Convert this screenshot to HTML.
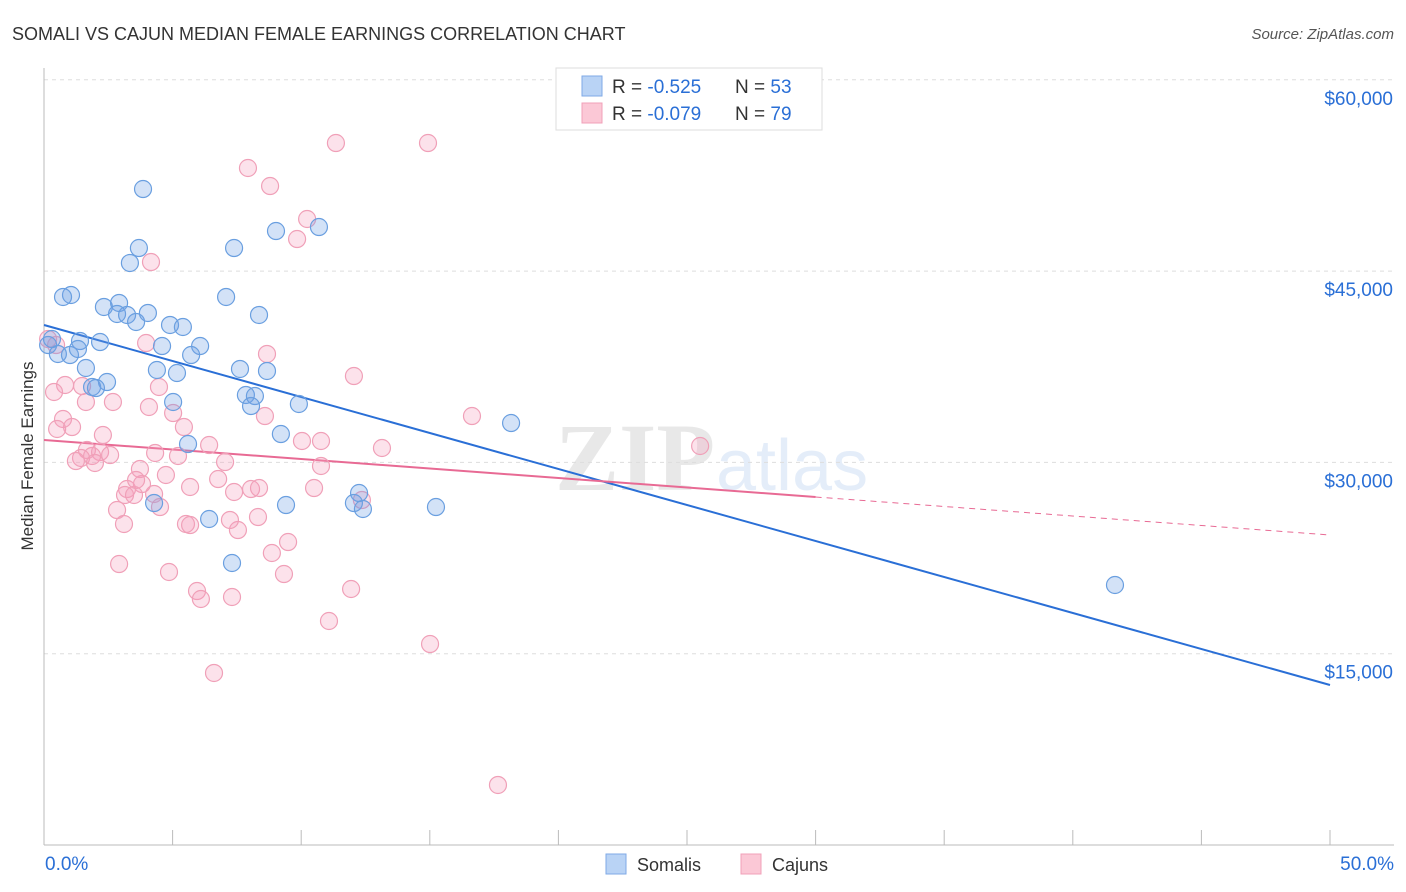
<!DOCTYPE html>
<html><head><meta charset="utf-8"><style>
body{margin:0;background:#fff;font-family:"Liberation Sans",sans-serif;}
svg{display:block}
</style></head><body>
<svg id="chart" width="1406" height="892" xmlns="http://www.w3.org/2000/svg">
<text x="12" y="40" font-size="18" fill="#333">SOMALI VS CAJUN MEDIAN FEMALE EARNINGS CORRELATION CHART</text>
<text x="1394" y="39" font-size="15" fill="#555" text-anchor="end" font-style="italic">Source: ZipAtlas.com</text>
<text transform="translate(33,456) rotate(-90)" font-size="17" fill="#333" text-anchor="middle">Median Female Earnings</text>
<g opacity="0.13">
<text x="555" y="490" font-size="96" font-family="Liberation Serif" fill="#555" font-weight="bold">ZIP</text>
<text x="716" y="490" font-size="72" fill="#3a7bd5">atlas</text>
</g>
<g id="grid"></g>
<g id="axes"></g>
<g id="lines"></g>
<g id="points"></g>
<g>
<rect x="556" y="68" width="266" height="62" fill="#fff" stroke="#ddd"/>
<rect x="582" y="76" width="20" height="20" fill="#b9d3f5" stroke="#7fa9e6"/>
<rect x="582" y="103" width="20" height="20" fill="#fbc8d6" stroke="#f0a0b8"/>
<text x="612" y="93" font-size="19" fill="#333">R = <tspan fill="#2a6fd6">-0.525</tspan><tspan x="735">N = </tspan><tspan fill="#2a6fd6">53</tspan></text>
<text x="612" y="120" font-size="19" fill="#333">R = <tspan fill="#2a6fd6">-0.079</tspan><tspan x="735">N = </tspan><tspan fill="#2a6fd6">79</tspan></text>
</g>
<g>
<rect x="606" y="854" width="20" height="20" fill="#b9d3f5" stroke="#7fa9e6"/>
<text x="637" y="871" font-size="18" fill="#333">Somalis</text>
<rect x="741" y="854" width="20" height="20" fill="#fbc8d6" stroke="#f0a0b8"/>
<text x="772" y="871" font-size="18" fill="#333">Cajuns</text>
</g>
</svg>
<script>
const yTicks=[15000,30000,45000,60000];
const yTickLabels=["$15,000","$30,000","$45,000","$60,000"];
const xTickLabels=["0.0%","50.0%"];
const somaliX=[3.85,3.69,3.34,7.39,9.02,10.69,1.05,0.74,2.33,2.92,2.84,3.23,3.58,4.04,4.90,5.40,7.08,8.36,0.31,0.16,0.54,1.01,1.40,2.18,1.32,4.59,6.07,5.72,1.63,2.45,1.87,2.02,4.39,5.17,7.62,8.67,7.85,8.20,8.05,5.02,9.91,5.60,9.21,18.16,4.28,6.42,9.41,12.25,12.05,12.40,15.24,7.31,41.64];
const somaliY=[51437,46811,45636,46811,48143,48457,43126,42970,42186,42500,41637,41558,41010,41715,40774,40617,42970,41558,39675,39205,38500,38421,39518,39440,38892,39126,39126,38421,37402,36304,35912,35833,37245,37010,37324,37167,35285,35206,34422,34736,34579,31442,32226,33089,26816,25562,26659,27600,26816,26346,26502,22112,20387];
const cajunX=[11.35,14.93,7.93,8.79,10.23,9.84,4.16,0.16,0.47,3.97,8.67,12.05,4.47,0.82,1.48,0.39,2.68,4.08,5.02,8.59,16.64,0.74,1.09,0.51,5.44,2.29,10.77,13.14,6.42,25.51,1.67,2.18,1.87,1.44,1.24,2.57,5.21,7.04,1.98,10.77,3.73,4.74,6.77,5.68,3.23,3.81,3.15,4.28,7.39,8.05,8.36,3.50,10.50,12.36,4.51,2.84,8.32,5.52,3.11,5.68,7.54,9.49,8.86,2.92,4.86,9.33,5.95,6.10,7.31,11.94,11.08,15.01,6.61,17.65,1.63,4.32,7.23,3.58,10.03];
const cajunY=[55044,55044,53084,51672,49085,47516,45713,39675,39205,39362,38500,36774,35912,36069,35990,35520,34736,34344,33873,33638,33638,33403,32775,32619,32775,32148,31678,31129,31364,31286,30972,30815,30502,30345,30109,30580,30502,30031,29953,29718,29482,29012,28698,28071,27914,28306,27444,27522,27679,27914,27992,27444,27992,27051,26502,26267,25718,25170,25170,25091,24699,23758,22896,22033,21406,21249,19916,19289,19446,20073,17564,15760,13487,4705,34736,30737,25484,28620,31678];
const somaliTrend=[40774,12546];
const cajunTrend=[31757,27287,24307];
const cajunSolidEnd=30;

const NS="http://www.w3.org/2000/svg";
const X=v=>44+v/50*1286;
const Y=v=>845-v/15000*191.3;
function mk(tag,attrs,parent){const e=document.createElementNS(NS,tag);for(const k in attrs)e.setAttribute(k,attrs[k]);document.getElementById(parent).appendChild(e);return e;}
yTicks.forEach((t,i)=>{
  const g=mk('line',{x1:44,x2:1394,y1:Y(t),y2:Y(t),stroke:'#ddd','stroke-dasharray':'4,4'},'grid');
  
  
  const tx=mk('text',{x:1393,y:Y(t)+25,'font-size':19,fill:'#2a6fd6','text-anchor':'end'},'axes');
  tx.textContent=yTickLabels[i];
  
  
});
const ya=mk('line',{x1:44,x2:44,y1:68,y2:845,stroke:'#bbb'},'axes');


const xa=mk('line',{x1:44,x2:1394,y1:845,y2:845,stroke:'#bbb'},'axes');


for(let i=0;i<=10;i++){
  const tk=mk('line',{x1:X(i*5),x2:X(i*5),y1:830,y2:845,stroke:'#bbb'},'axes');
  
  
}
[[0,'start',45],[50,'end',1394]].forEach((d,i)=>{
  const t=mk('text',{x:d[2],y:870,'font-size':19,fill:'#2a6fd6','text-anchor':d[1]},'axes');
  t.textContent=xTickLabels[i];
  
  
});
function dots(xs,ys,fill,stroke,name){
  xs.forEach((x,i)=>{
    const c=mk('circle',{cx:X(x),cy:Y(ys[i]),r:8.5,fill:fill,stroke:stroke,'stroke-width':1.2},'points');
    
    
  });
}
dots(cajunX,cajunY,'rgba(245,160,190,0.3)','#f0a0b8','cajun-point');
dots(somaliX,somaliY,'rgba(110,160,230,0.3)','#6a9fe0','somali-point');
const sl=mk('line',{x1:X(0),y1:Y(somaliTrend[0]),x2:X(50),y2:Y(somaliTrend[1]),stroke:'#2a6fd6','stroke-width':2},'lines');


const cl=mk('line',{x1:X(0),y1:Y(cajunTrend[0]),x2:X(cajunSolidEnd),y2:Y(cajunTrend[1]),stroke:'#e86a94','stroke-width':2},'lines');


const cd=mk('line',{x1:X(cajunSolidEnd),y1:Y(cajunTrend[1]),x2:X(50),y2:Y(cajunTrend[2]),stroke:'#e86a94','stroke-width':1,'stroke-dasharray':'6,5'},'lines');


</script>
</body></html>
